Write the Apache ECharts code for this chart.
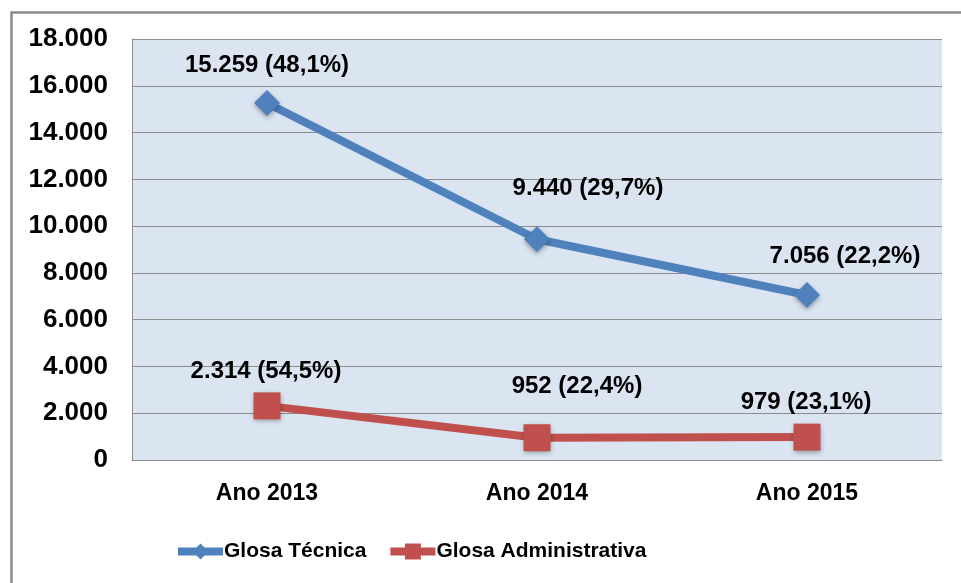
<!DOCTYPE html>
<html>
<head>
<meta charset="utf-8">
<script src="https://cdn.jsdelivr.net/npm/echarts@6/dist/echarts.min.js"></script>
<style>html,body{margin:0;padding:0;background:#fff}#c{width:961px;height:583px}</style>
</head>
<body>
<div id="c"></div>
<script>
const categories = ['Ano 2013', 'Ano 2014', 'Ano 2015'];
const seriesNames = ['Glosa Técnica', 'Glosa Administrativa'];
const tecnica = [15259, 9440, 7056];
const tecnicaPct = ['48,1%', '29,7%', '22,2%'];
const administrativa = [2314, 952, 979];
const administrativaPct = ['54,5%', '22,4%', '23,1%'];
const tecnicaLabelOffsets = [[0, -38], [51, -51], [38, -39]];
const adminLabelOffsets = [[-1, -35], [40, -51], [-1, -35]];

function fmt(v) {
  return String(v).replace(/\B(?=(\d{3})+(?!\d))/g, '.');
}
function buildData(vals, pcts, offs) {
  return vals.map((v, i) => ({
    value: v,
    label: { offset: offs[i], formatter: fmt(v) + ' (' + pcts[i] + ')' }
  }));
}
const FONT = '"Liberation Sans", Arial, sans-serif';
const chart = echarts.init(document.getElementById('c'), null, { renderer: 'canvas' });
const labelStyle = {
  show: true, position: 'inside', color: '#000', fontFamily: FONT,
  fontWeight: 'bold', fontSize: 24
};
chart.setOption({
  animation: false,
  backgroundColor: '#fff',
  graphic: [{
    type: 'rect', left: 9, top: 10, z: 100,
    shape: { x: 0, y: 0, width: 1000, height: 1000 },
    style: { fill: 'none', stroke: '#8c8c8c', lineWidth: 2.5 }
  }],
  grid: {
    left: 132, right: 19, top: 39, bottom: 123,
    show: true, backgroundColor: '#dbe5f1', borderWidth: 0
  },
  legend: {
    left: 174, top: 541, padding: 0,
    itemWidth: 45, itemHeight: 20, itemGap: 20,
    lineStyle: { width: 8 },
    textStyle: { fontFamily: FONT, fontWeight: 'bold', fontSize: 21, color: '#000', padding: [0, 0, 0, -4] },
    data: [
      { name: seriesNames[0], itemStyle: { shadowBlur: 0, shadowOffsetY: 0 } },
      { name: seriesNames[1], itemStyle: { shadowBlur: 0, shadowOffsetY: 0 } }
    ]
  },
  xAxis: {
    type: 'category', data: categories, boundaryGap: true,
    axisLine: { lineStyle: { color: '#8c8c8c', width: 1 } },
    axisTick: { show: false },
    axisLabel: { margin: 22, color: '#000', fontFamily: FONT, fontWeight: 'bold', fontSize: 23 },
    splitLine: { show: false }
  },
  yAxis: {
    type: 'value', min: 0, max: 18000, interval: 2000,
    axisLine: { show: true, lineStyle: { color: '#8c8c8c', width: 1 } },
    axisTick: { show: false },
    axisLabel: { margin: 24, color: '#000', fontFamily: FONT, fontWeight: 'bold', fontSize: 26, formatter: fmt },
    splitLine: { show: true, lineStyle: { color: '#8c8c8c', width: 1 } }
  },
  series: [{
    name: seriesNames[0], type: 'line',
    data: buildData(tecnica, tecnicaPct, tecnicaLabelOffsets),
    symbol: 'diamond', symbolSize: [26, 26],
    lineStyle: { color: '#4f81bd', width: 8 },
    itemStyle: { color: '#4f81bd', shadowBlur: 5, shadowColor: 'rgba(0,0,0,0.35)', shadowOffsetY: 2 },
    label: labelStyle
  }, {
    name: seriesNames[1], type: 'line',
    data: buildData(administrativa, administrativaPct, adminLabelOffsets),
    symbol: 'rect', symbolSize: [27, 27],
    lineStyle: { color: '#c0504d', width: 8 },
    itemStyle: { color: '#c0504d', shadowBlur: 5, shadowColor: 'rgba(0,0,0,0.35)', shadowOffsetY: 2 },
    label: labelStyle
  }]
});
</script>
</body>
</html>
